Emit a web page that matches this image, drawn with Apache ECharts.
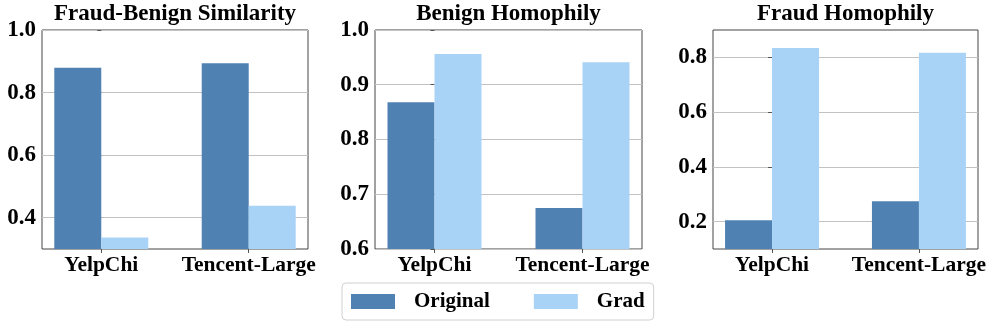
<!DOCTYPE html>
<html>
<head>
<meta charset="utf-8">
<script src="https://cdn.jsdelivr.net/npm/echarts@6/dist/echarts.min.js"></script>
<style>
  html, body { margin: 0; padding: 0; background: #fff; }
  #chart { width: 996px; height: 329px; }
</style>
</head>
<body>
<div id="chart"></div>
<script>
// data
const categories = ["YelpChi", "Tencent-Large"];
const seriesNames = ["Original", "Grad"];
const panelTitles = ["Fraud-Benign Similarity", "Benign Homophily", "Fraud Homophily"];

const similarityOriginal = [0.879, 0.894];
const similarityGrad = [0.337, 0.438];
const benignOriginal = [0.868, 0.675];
const benignGrad = [0.956, 0.941];
const fraudOriginal = [0.205, 0.274];
const fraudGrad = [0.834, 0.817];

const yTicks = [
  [0.4, 0.6, 0.8, 1.0],
  [0.6, 0.7, 0.8, 0.9, 1.0],
  [0.2, 0.4, 0.6, 0.8]
];
const yRanges = [[0.3, 1.0], [0.6, 1.0], [0.1, 0.9]];

const colors = ["#4f82b3", "#a9d3f6"];
const fontFamily = "'Liberation Serif', 'Times New Roman', serif";

const panelData = [
  [similarityOriginal, similarityGrad],
  [benignOriginal, benignGrad],
  [fraudOriginal, fraudGrad]
];

// layout of the three plot boxes
const grids = [
  { left: 42, top: 30, width: 266, height: 219 },
  { left: 375, top: 30, width: 267, height: 219 },
  { left: 713, top: 30, width: 265, height: 219 }
];

const chart = echarts.init(document.getElementById("chart"));

const xAxes = [], yAxes = [], series = [], graphics = [];

grids.forEach(function (g, i) {
  g.show = true;
  g.borderColor = "#444";
  g.borderWidth = 1;
  g.containLabel = false;

  xAxes.push({
    type: "value",
    gridIndex: i,
    min: -0.402,
    max: 1.402,
    splitLine: { show: false },
    axisLine: { show: false },
    axisTick: {
      show: true,
      customValues: [0, 1],
      length: 4,
      lineStyle: { color: "#555" }
    },
    axisLabel: {
      customValues: [0, 1],
      formatter: function (v) { return categories[Math.round(v)]; },
      fontFamily: fontFamily,
      fontWeight: "bold",
      fontSize: 21.5,
      color: "#000",
      margin: 5
    }
  });

  yAxes.push({
    type: "value",
    gridIndex: i,
    min: yRanges[i][0],
    max: yRanges[i][1],
    axisLine: { show: false },
    axisTick: {
      show: true,
      customValues: yTicks[i],
      length: 4,
      lineStyle: { color: "#555" }
    },
    splitLine: {
      show: true,
      lineStyle: { color: "#c2c2c2", width: 1.2 }
    },
    axisLabel: {
      customValues: yTicks[i],
      formatter: function (v) { return v.toFixed(1); },
      fontFamily: fontFamily,
      fontWeight: "bold",
      fontSize: 23,
      color: "#000",
      margin: 6
    }
  });

  panelData[i].forEach(function (vals, s) {
    series.push({
      name: seriesNames[s],
      type: "bar",
      xAxisIndex: i,
      yAxisIndex: i,
      barWidth: 47,
      barGap: "0%",
      itemStyle: { color: colors[s] },
      data: vals.map(function (v, k) { return [k, v]; })
    });
  });

  graphics.push({
    type: "text",
    x: g.left + g.width / 2,
    y: 3,
    style: {
      text: panelTitles[i],
      textAlign: "center",
      fontFamily: fontFamily,
      fontWeight: "bold",
      fontSize: 23,
      fill: "#000"
    }
  });
});

chart.setOption({
  animation: false,
  grid: grids,
  xAxis: xAxes,
  yAxis: yAxes,
  series: series,
  graphic: graphics,
  legend: {
    data: seriesNames,
    left: 342,
    top: 283,
    padding: [8, 9],
    itemWidth: 44,
    itemHeight: 15,
    itemGap: 44,
    icon: "rect",
    borderColor: "#d0d0d0",
    borderWidth: 1,
    borderRadius: 4,
    textStyle: {
      fontFamily: fontFamily,
      fontWeight: "bold",
      fontSize: 21,
      color: "#000",
      padding: [0, 0, 0, 14]
    }
  }
});
</script>
</body>
</html>
